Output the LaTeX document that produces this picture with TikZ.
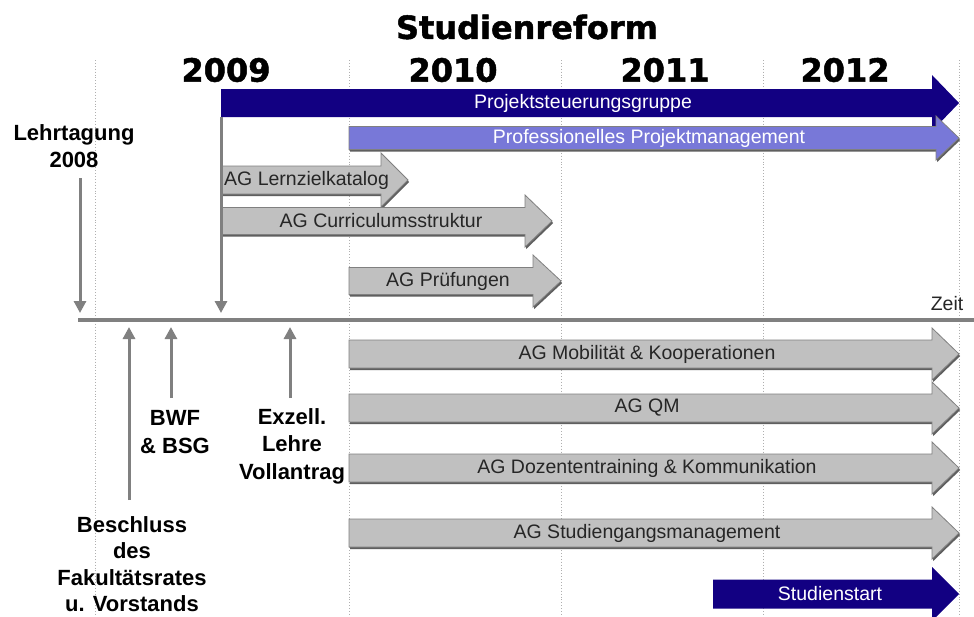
\documentclass[tikz,border=0pt]{standalone}
\usepackage{fontspec}
\setmainfont{Liberation Sans}
\newfontfamily\headfont{DejaVu Sans}[BoldFeatures={FakeBold=1.5}]
\usetikzlibrary{arrows.meta}
\definecolor{navyc}{RGB}{18,0,130}
\definecolor{purplec}{RGB}{120,120,216}
\definecolor{barc}{RGB}{192,192,192}
\definecolor{edgec}{RGB}{128,128,128}
\definecolor{shadc}{RGB}{95,95,95}
\definecolor{axisc}{RGB}{128,128,128}
\definecolor{gridc}{RGB}{175,175,175}
% #1 style, #2 x start, #3 head start, #4 tip, #5 y centre, #6 bar half height, #7 head half height
\newcommand\barrow[7]{%
  \fill[shadc,shift={(1.2,2)}] (#2,{#5-#6}) -- (#3,{#5-#6}) -- (#3,{#5-#7}) -- (#4,#5) -- (#3,{#5+#7}) -- (#3,{#5+#6}) -- (#2,{#5+#6}) -- cycle;
  \path[#1] (#2,{#5-#6}) -- (#3,{#5-#6}) -- (#3,{#5-#7}) -- (#4,#5) -- (#3,{#5+#7}) -- (#3,{#5+#6}) -- (#2,{#5+#6}) -- cycle;}
\newcommand\navyarrow[7]{%
  \path[#1] (#2,{#5-#6}) -- (#3,{#5-#6}) -- (#3,{#5-#7}) -- (#4,#5) -- (#3,{#5+#7}) -- (#3,{#5+#6}) -- (#2,{#5+#6}) -- cycle;}
\begin{document}
\begin{tikzpicture}[x=1pt,y=-1pt,
  navybar/.style={fill=navyc},
  purplebar/.style={fill=purplec,draw=edgec,line width=0.8pt},
  graybar/.style={fill=barc,draw=edgec,line width=0.8pt},
  bartext/.style={font=\fontsize{19.5}{22}\selectfont,inner sep=0pt,text=black!85},
  whitetext/.style={font=\fontsize{19.5}{22}\selectfont,inner sep=0pt,text=white},
  evlabel/.style={font=\bfseries\fontsize{22}{27.5}\selectfont,align=center,inner sep=0pt},
  yearlabel/.style={font=\headfont\bfseries\fontsize{32}{36}\selectfont,inner sep=0pt},
  evarrow/.style={draw=axisc,line width=3pt,-{Triangle[width=12pt,length=12pt]}},
  gridline/.style={draw=gridc,dotted,line width=0.9pt}]
\useasboundingbox (0,0) rectangle (974,616);
\fill[white] (0,0) rectangle (974,616);
% grid
\foreach \x in {95,349,561,763,959} \draw[gridline] (\x,60) -- (\x,616);
% title and years
\node[yearlabel] (title) at (527,27) {Studienreform};
\node[yearlabel] (y2009) at (226,70) {2009};
\node[yearlabel] (y2010) at (453,70) {2010};
\node[yearlabel] (y2011) at (665,70) {2011};
\node[yearlabel] (y2012) at (845,70) {2012};
% upper bars
\navyarrow{navybar}{221}{932}{959}{103}{14}{28}
\node[whitetext] (psg) at (583,103) {Projektsteuerungsgruppe};
\barrow{purplebar}{349}{936}{959}{138}{11.5}{22}
\node[whitetext] (ppm) at (649,138) {Professionelles Projektmanagement};
\barrow{graybar}{221}{381}{408}{180}{14}{27}
\node[bartext,anchor=west] (lzk) at (224,180) {AG Lernzielkatalog};
\barrow{graybar}{221}{525}{552}{221}{13.5}{26}
\node[bartext] (cur) at (381,221) {AG Curriculumsstruktur};
\barrow{graybar}{349}{533}{561}{281}{13.5}{26}
\node[bartext] (pru) at (448,281) {AG Prüfungen};
% axis
\coordinate (axL) at (78,320);
\coordinate (axR) at (974,320);
\draw[axisc,line width=3.5pt] (axL) -- (axR);
\node[bartext] (zeit) at (947,304) {Zeit};
% lower bars
\barrow{graybar}{349}{932}{959}{354}{14}{26}
\node[bartext] (mob) at (647,354) {AG Mobilität \& Kooperationen};
\barrow{graybar}{349}{932}{959}{408}{14}{26}
\node[bartext] (qm) at (647,408) {AG QM};
\barrow{graybar}{349}{932}{959}{468}{14}{26}
\node[bartext] (doz) at (647,468) {AG Dozententraining \& Kommunikation};
\barrow{graybar}{349}{932}{959}{533}{14}{26}
\node[bartext] (stu) at (647,533) {AG Studiengangsmanagement};
\navyarrow{navybar}{713}{932}{959}{594}{14.5}{27}
\node[whitetext] (start) at (830,594) {Studienstart};
% event labels
\node[evlabel] (lehr) at (74,146) {Lehrtagung\\2008};
\node[evlabel] (bwf) at (175,432) {BWF\\\& BSG};
\node[evlabel] (exz) at (292,446) {Exzell.\\Lehre\\Vollantrag};
\node[evlabel,font=\bfseries\fontsize{22}{26.5}\selectfont] (bes) at (132,564) {Beschluss\\des\\Fakultätsrates\\u. Vorstands};
% event arrows
\coordinate (lehrA) at (80,178);
\coordinate (lehrB) at (80,313);
\draw[evarrow] (lehrA) -- (lehrB);
\coordinate (psgA) at (221,117);
\coordinate (psgB) at (221,313);
\draw[evarrow] (psgA) -- (psgB);
\coordinate (besA) at (129,500);
\coordinate (besB) at (129,327);
\draw[evarrow] (besA) -- (besB);
\coordinate (bwfA) at (171,398);
\coordinate (bwfB) at (171,327);
\draw[evarrow] (bwfA) -- (bwfB);
\coordinate (exzA) at (290,398);
\coordinate (exzB) at (290,327);
\draw[evarrow] (exzA) -- (exzB);
\end{tikzpicture}
\end{document}
